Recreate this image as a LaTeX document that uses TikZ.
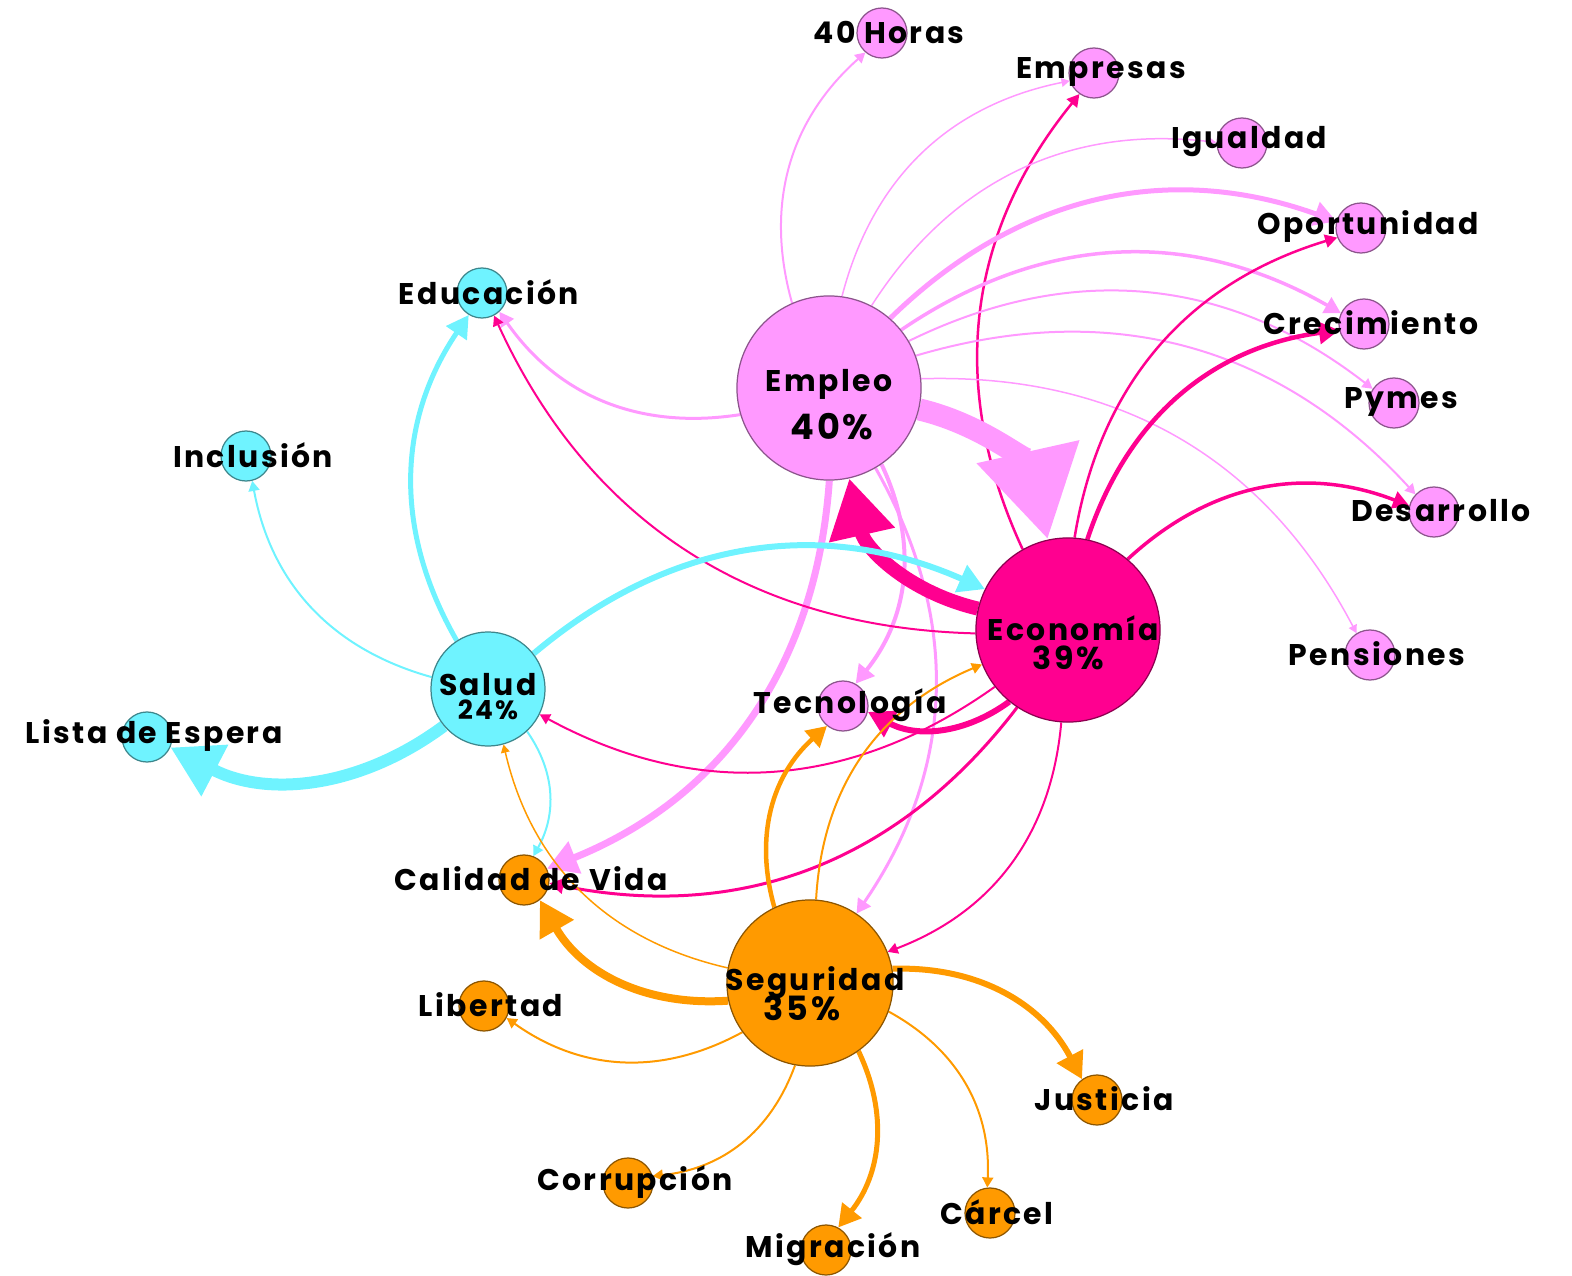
\documentclass[tikz,border=0pt]{standalone}
\usepackage{fontspec}
\setmainfont{Poppins}[LetterSpace=8]
\usetikzlibrary{arrows.meta, backgrounds}
\definecolor{empleo}{HTML}{FF99FF}
\definecolor{economia}{HTML}{FF0090}
\definecolor{salud}{HTML}{6FF3FF}
\definecolor{seguridad}{HTML}{FF9A00}
\tikzset{topic/.style={circle, draw=#1!55!black, fill=#1, line width=0.35pt, inner sep=0pt}}
\tikzset{subtopic/.style={topic=#1, minimum size=0.5cm}}
\tikzset{tag/.style={font=\bfseries\fontsize{8.5}{9}\selectfont, inner sep=0pt}}
\tikzset{subtag/.style={tag, xshift=0.07cm, yshift=0.01cm}}
\tikzset{pct/.style={font=\bfseries\fontsize{#1}{#1}\selectfont, inner sep=0pt}}
\tikzset{px/.style={line width=#1*0.01cm}}
\tikzset{link/.style={-{Triangle[length=0.6pt 4, width=0.6pt 4.4]}, bend left=32}}
\tikzset{emp/.style={link, draw=empleo}}
\tikzset{eco/.style={link, draw=economia}}
\tikzset{sal/.style={link, draw=salud}}
\tikzset{seg/.style={link, draw=seguridad}}

\begin{document}
\begin{tikzpicture}[x=0.01cm, y=-0.01cm]
    \useasboundingbox (0,0) rectangle (1572,1276);

    \node[topic=empleo, minimum size=1.84cm,
    label={[tag, yshift=0.04cm]center:Empleo},
    label={[pct=10, xshift=0.03cm, yshift=-0.39cm]center:40\%}] (empleo) at (829, 388) {};

    \node[topic=economia, minimum size=1.84cm,
    label={[tag, xshift=0.05cm, yshift=0.02cm]center:Economía},
    label={[pct=9, yshift=-0.28cm]center:39\%}] (economia) at (1068, 630) {};

    \node[topic=salud, minimum size=1.14cm,
    label={[tag, yshift=0.04cm]center:Salud},
    label={[pct=7.5, yshift=-0.21cm]center:24\%}] (salud) at (488, 689) {};

    \node[topic=seguridad, minimum size=1.66cm,
    label={[tag, xshift=0.05cm]center:Seguridad},
    label={[pct=9.5, xshift=-0.08cm, yshift=-0.25cm]center:35\%}] (seguridad) at (810, 983) {};

    \node[subtopic=empleo, label={[subtag]center:40 Horas}] (horas) at (882, 33) {};
    \node[subtopic=empleo, label={[subtag]center:Empresas}] (empresas) at (1094, 73) {};
    \node[subtopic=empleo, label={[subtag]center:Igualdad}] (igualdad) at (1242, 143) {};
    \node[subtopic=empleo, label={[subtag]center:Oportunidad}] (oportunidad) at (1361, 228) {};
    \node[subtopic=empleo, label={[subtag]center:Crecimiento}] (crecimiento) at (1364, 324) {};
    \node[subtopic=empleo, label={[subtag]center:Pymes}] (pymes) at (1394, 403) {};
    \node[subtopic=empleo, label={[subtag]center:Desarrollo}] (desarrollo) at (1434, 512) {};
    \node[subtopic=empleo, label={[subtag]center:Pensiones}] (pensiones) at (1370, 655) {};
    \node[subtopic=empleo, label={[subtag]center:Tecnología}] (tecnologia) at (843, 706) {};

    \node[subtopic=salud, label={[subtag]center:Educación}] (educacion) at (482, 293) {};
    \node[subtopic=salud, label={[subtag]center:Inclusión}] (inclusion) at (246, 456) {};
    \node[subtopic=salud, label={[subtag]center:Lista de Espera}] (lista) at (147, 737) {};

    \node[subtopic=seguridad, label={[subtag]center:Calidad de Vida}] (calidad) at (524, 880) {};
    \node[subtopic=seguridad, label={[subtag]center:Libertad}] (libertad) at (484, 1006) {};
    \node[subtopic=seguridad, label={[subtag]center:Justicia}] (justicia) at (1097, 1100) {};
    \node[subtopic=seguridad, label={[subtag]center:Corrupción}] (corrupcion) at (628, 1183) {};
    \node[subtopic=seguridad, label={[subtag]center:Cárcel}] (carcel) at (990, 1213) {};
    \node[subtopic=seguridad, label={[subtag]center:Migración}] (migracion) at (826, 1250) {};

    \begin{scope}[on background layer]
    \draw [eco, px=2.5] (economia) to (empresas);

    \draw [emp, px=2] (empleo) to (horas);
    \draw [emp, px=1.5] (empleo) to (empresas);
    \draw [emp, px=1.5] (empleo) to (igualdad);
    \draw [emp, px=5] (empleo) to (oportunidad);
    \draw [emp, px=3.5] (empleo) to (crecimiento);
    \draw [emp, px=2] (empleo) to (pymes);
    \draw [emp, px=2] (empleo) to (desarrollo);
    \draw [emp, px=1.5] (empleo) to (pensiones);
    \draw [emp, px=3] (empleo) to (educacion);
    \draw [emp, px=7] (empleo) to (calidad);
    \draw [emp, px=4] (empleo) to (tecnologia);
    \draw [emp, px=3] (empleo) to (seguridad);
    \draw [emp, px=22] (empleo) to (economia);

    \draw [eco, px=2.5] (economia) to (oportunidad);
    \draw [eco, px=4.5] (economia) to (crecimiento);
    \draw [eco, px=3.5] (economia) to (desarrollo);
    \draw [eco, px=2] (economia) to (educacion);
    \draw [eco, px=2] (economia) to (salud);
    \draw [eco, px=6] (economia) to (tecnologia);
    \draw [eco, px=3] (economia) to (calidad);
    \draw [eco, px=2] (economia) to (seguridad);
    \draw [eco, px=14] (economia) to (empleo);

    \draw [sal, px=6] (salud) to (economia);
    \draw [sal, px=5] (salud) to (educacion);
    \draw [sal, px=2] (salud) to (inclusion);
    \draw [sal, px=12] (salud) to (lista);
    \draw [sal, px=2] (salud) to (calidad);

    \draw [seg, px=4.5] (seguridad) to (tecnologia);
    \draw [seg, px=2] (seguridad) to (economia);
    \draw [seg, px=1.5] (seguridad) to (salud);
    \draw [seg, px=8] (seguridad) to (calidad);
    \draw [seg, px=2] (seguridad) to (libertad);
    \draw [seg, px=2] (seguridad) to (corrupcion);
    \draw [seg, px=5] (seguridad) to (migracion);
    \draw [seg, px=2] (seguridad) to (carcel);
    \draw [seg, px=6] (seguridad) to (justicia);
    \end{scope}
\end{tikzpicture}
\end{document}
